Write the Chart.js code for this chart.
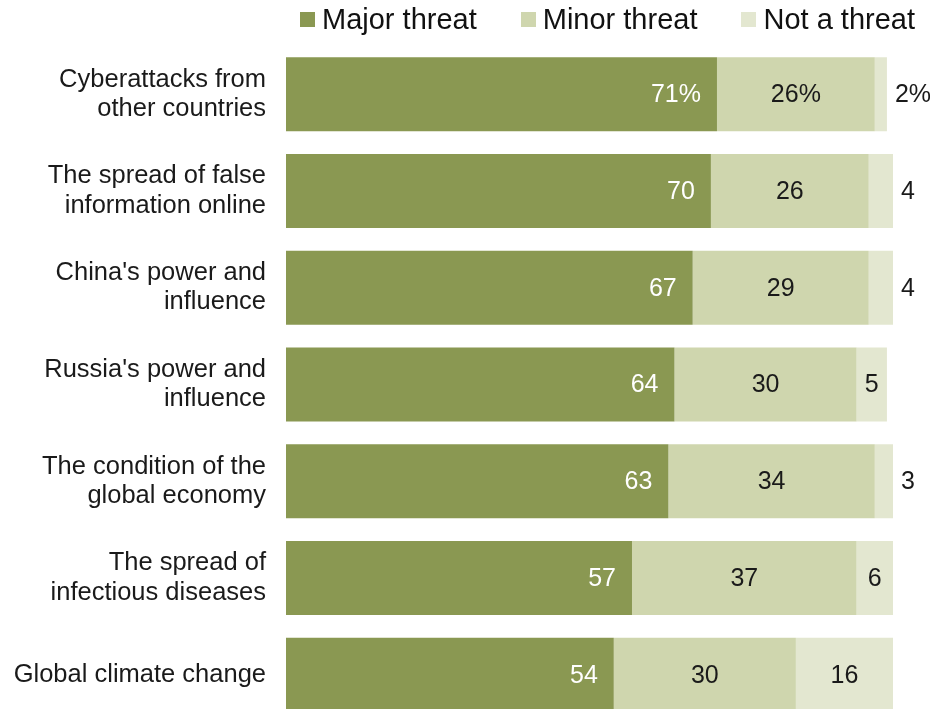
<!DOCTYPE html>
<html>
<head>
<meta charset="utf-8">
<script src="https://cdn.jsdelivr.net/npm/chart.js@4/dist/chart.umd.min.js"></script>
<style>
html,body{margin:0;padding:0;background:#fff;overflow:hidden;width:930px;height:709px;}
#wrap{position:relative;width:930px;height:740px;}
#legend{position:absolute;top:3px;right:15px;display:flex;font-family:"Liberation Sans",Arial,sans-serif;font-size:29px;color:#111;white-space:nowrap;}
#legend .it{display:flex;align-items:center;margin-left:44px;}
#legend .sw{width:15px;height:15px;margin-right:7px;}
</style>
</head>
<body>
<div id="wrap">
<canvas id="c"></canvas>
<div id="legend"></div>
</div>
<script>
const categories = [
  ["Cyberattacks from","other countries"],
  ["The spread of false","information online"],
  ["China's power and","influence"],
  ["Russia's power and","influence"],
  ["The condition of the","global economy"],
  ["The spread of","infectious diseases"],
  ["Global climate change"]
];
const seriesNames = ["Major threat","Minor threat","Not a threat"];
const majorThreat = [71,70,67,64,63,57,54];
const minorThreat = [26,26,29,30,34,37,30];
const notThreat   = [2,4,4,5,3,6,16];
const colors = ["#8a9852","#cfd6ae","#e3e7d0"];

const legend = document.getElementById('legend');
seriesNames.forEach((n,i)=>{
  const it=document.createElement('div');it.className='it';
  if(i===0) it.style.marginLeft='0';
  const sw=document.createElement('div');sw.className='sw';sw.style.background=colors[i];
  const t=document.createElement('span');t.textContent=n;
  it.appendChild(sw);it.appendChild(t);legend.appendChild(it);
});

const labelPlugin = {
  id:'barLabels',
  afterDatasetsDraw(chart){
    const ctx=chart.ctx;
    ctx.save();
    ctx.font='25px "Liberation Sans", Arial, sans-serif';
    ctx.textBaseline='middle';
    chart.data.datasets.forEach((ds,di)=>{
      const meta=chart.getDatasetMeta(di);
      meta.data.forEach((bar,i)=>{
        const v=ds.data[i];
        const txt = v + (i===0?'%':'');
        const left=bar.base, right=bar.x, y=bar.y+1;
        if(di===0){
          ctx.fillStyle='#ffffff';ctx.textAlign='right';
          ctx.fillText(txt,right-16,y);
        } else if(di===1){
          ctx.fillStyle='#1a1a1a';ctx.textAlign='center';
          ctx.fillText(txt,(left+right)/2,y);
        } else {
          ctx.fillStyle='#1a1a1a';
          if(v>=5){ctx.textAlign='center';ctx.fillText(txt,(left+right)/2,y);}
          else {ctx.textAlign='left';ctx.fillText(txt,right+8,y);}
        }
      });
    });
    ctx.restore();
  }
};

new Chart(document.getElementById('c'),{
  type:'bar',
  data:{
    labels:categories,
    datasets:[
      {label:seriesNames[0],data:majorThreat,backgroundColor:colors[0]},
      {label:seriesNames[1],data:minorThreat,backgroundColor:colors[1]},
      {label:seriesNames[2],data:notThreat,backgroundColor:colors[2]}
    ]
  },
  options:{
    indexAxis:'y',
    responsive:true,
    maintainAspectRatio:false,
    animation:false,
    layout:{padding:{top:46,right:37,bottom:17,left:0}},
    datasets:{bar:{categoryPercentage:1,barPercentage:0.765,borderWidth:0}},
    plugins:{legend:{display:false},tooltip:{enabled:false}},
    scales:{
      x:{stacked:true,min:0,max:100,display:false},
      y:{stacked:true,
        grid:{display:false,drawTicks:false},
        border:{display:false},
        ticks:{padding:20,color:'#1a1a1a',font:{family:'"Liberation Sans", Arial, sans-serif',size:25.5,lineHeight:1.15}},
        afterFit(s){s.width=286;s.paddingTop=0;s.paddingBottom=0;}
      }
    }
  },
  plugins:[labelPlugin]
});
</script>
</body>
</html>
